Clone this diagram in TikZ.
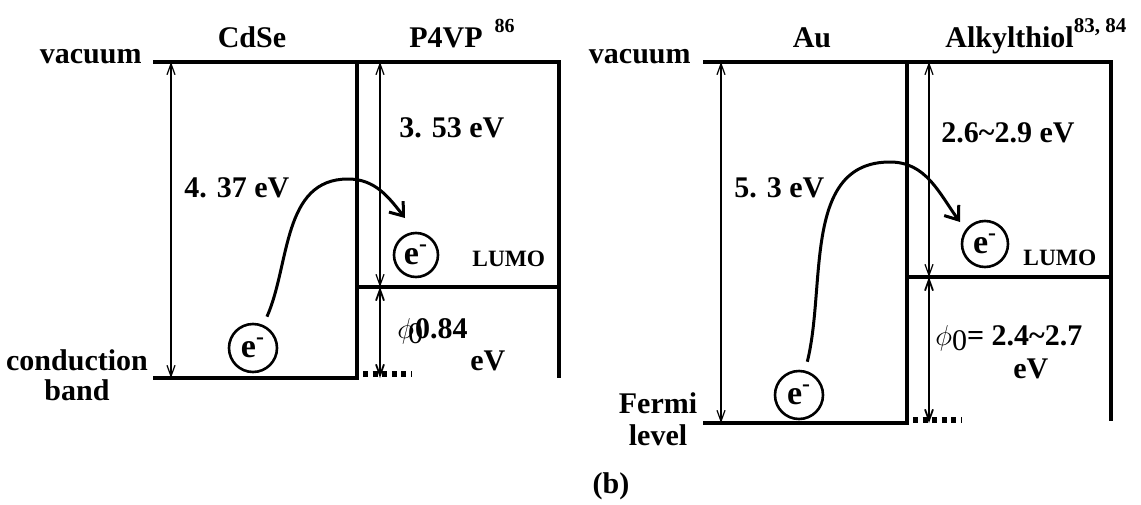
\documentclass[tikz,border=0pt]{standalone}
\usepackage{fontspec}
\setmainfont{Liberation Serif}
\usetikzlibrary{arrows.meta}
\begin{document}
\begin{tikzpicture}[x=0.5pt,y=-0.5pt,
  lbl/.style={font=\bfseries\fontsize{15}{17}\selectfont, inner sep=0pt},
  small/.style={font=\bfseries\fontsize{11.7}{14}\selectfont, inner sep=0pt},
  lvl/.style={line width=1.6pt},
  gaparrow/.style={line width=0.6pt, {Straight Barb[length=5.5pt,width=4pt]}-{Straight Barb[length=5.5pt,width=4pt]}},
  phiarrow/.style={line width=0.9pt, {Straight Barb[length=5.5pt,width=4pt]}-{Straight Barb[length=5.5pt,width=4pt]}},
  elec/.style={circle, draw, line width=1.3pt, inner sep=0pt, font=\bfseries\fontsize{17}{19}\selectfont},
  hop/.style={line width=1.5pt, -{Straight Barb[length=6pt,width=9pt,line width=1.5pt]}},
  dotted5/.style={line width=2.6pt, dash pattern=on 2.5pt off 2.3pt}
]
\useasboundingbox (0,0) rectangle (1141,504);

% ---------- left diagram: CdSe / P4VP ----------
\coordinate (Lv0) at (153,62);
\coordinate (Lv1) at (357,62);
\coordinate (Lv2) at (559,62);
\coordinate (Lc0) at (153,378);
\coordinate (Lc1) at (357,378);
\coordinate (Lw1) at (559,378);
\coordinate (Llumo0) at (357,287);
\coordinate (Llumo1) at (559,287);

\draw[lvl] (Lv0) -- (Lv2) -- (Lw1);
\draw[lvl] (Lv1) -- (Lc1) -- (Lc0);
\draw[lvl] (Llumo0) -- (Llumo1);

\coordinate (LaT) at (171,62);   \coordinate (LaB) at (171,378);
\coordinate (LbT) at (380,62);   \coordinate (LbB) at (380,287);
\coordinate (LcB) at (380,378);
\draw[gaparrow] (LaT) -- (LaB);
\draw[gaparrow] (LbT) -- (LbB);
\draw[phiarrow] (LbB) -- (LcB);

\coordinate (Ld0) at (363,374); \coordinate (Ld1) at (412,374);
\draw[dotted5] (Ld0) -- (Ld1);

\node[lbl, anchor=base east] (vacL) at (142,63) {vacuum};
\node[lbl, anchor=base] (cdse) at (252,47) {CdSe};
\node[lbl, anchor=base west] (p4vp) at (409,47) {P4VP\hspace{6pt}\raisebox{7.5pt}{\fontsize{10}{10}\selectfont 86}};
\node[lbl, anchor=base west] (e437) at (184,197) {4. 37 eV};
\node[lbl, anchor=base west] (e353) at (399,137) {3. 53 eV};
\node[small, anchor=base west] (lumoL) at (472,266) {LUMO};
\node[lbl, anchor=base west] (phiL) at (397,338) {$\phi$\hspace{-3pt}\raisebox{-2.5pt}{\mdseries 0}\hspace{-4pt}0.84};
\node[lbl, anchor=base west] (evL) at (470,370) {eV};
\node[lbl, anchor=base] (cbL1) at (77,370) {conduction};
\node[lbl, anchor=base] (cbL2) at (77,400) {band};

\node[elec, minimum size=24pt] (lowL) at (253,348) {e\textsuperscript{-}};
\node[elec, minimum size=22pt] (upL) at (416,255) {e\textsuperscript{-}};
\coordinate (pkL) at (348,179);
\coordinate (tipL) at (405,218);
\draw[hop, shorten <=4.5pt] (lowL) to[out=66,in=180] (pkL) to[out=0,in=128] (tipL);

% ---------- right diagram: Au / Alkylthiol ----------
\coordinate (Rv0) at (703,62);
\coordinate (Rv1) at (907,62);
\coordinate (Rv2) at (1111,62);
\coordinate (Rf0) at (703,423);
\coordinate (Rf1) at (907,423);
\coordinate (Rw1) at (1111,421);
\coordinate (Rlumo0) at (907,277);
\coordinate (Rlumo1) at (1111,277);

\draw[lvl] (Rv0) -- (Rv2) -- (Rw1);
\draw[lvl] (Rv1) -- (Rf1) -- (Rf0);
\draw[lvl] (Rlumo0) -- (Rlumo1);

\coordinate (RaT) at (721,62);   \coordinate (RaB) at (721,423);
\coordinate (RbT) at (929,62);   \coordinate (RbB) at (929,277);
\coordinate (RcB) at (929,423);
\draw[gaparrow] (RaT) -- (RaB);
\draw[gaparrow] (RbT) -- (RbB);
\draw[phiarrow] (RbB) -- (RcB);

\coordinate (Rd0) at (913,420); \coordinate (Rd1) at (962,420);
\draw[dotted5] (Rd0) -- (Rd1);

\node[lbl, anchor=base east] (vacR) at (691,63) {vacuum};
\node[lbl, anchor=base] (au) at (812,47) {Au};
\node[lbl, anchor=base west] (alk) at (945,47) {Alkylthiol\raisebox{7.5pt}{\fontsize{10.5}{11}\selectfont 83, 84}};
\node[lbl, anchor=base west] (e53) at (734,197) {5. 3 eV};
\node[lbl, anchor=base west] (e26) at (941,142) {2.6\textasciitilde2.9 eV};
\node[small, anchor=base west] (lumoR) at (1023,265) {LUMO};
\node[lbl, anchor=base west] (phiR) at (935,345) {$\phi$\raisebox{-2.5pt}{\mdseries 0}= 2.4\textasciitilde2.7};
\node[lbl, anchor=base west] (evR) at (1013,378) {eV};
\node[lbl, anchor=base] (fermi1) at (658,413) {Fermi};
\node[lbl, anchor=base] (fermi2) at (658,445) {level};

\node[elec, minimum size=24pt] (lowR) at (799,395) {e\textsuperscript{-}};
\node[elec, minimum size=23pt] (upR) at (985,244) {e\textsuperscript{-}};
\coordinate (pkR) at (890,162);
\coordinate (tipR) at (960,222);
\draw[hop, shorten <=4.5pt] (lowR) to[out=76,in=180] (pkR) to[out=0,in=126] (tipR);

\node[lbl, anchor=base] (cap) at (611,493) {(b)};
\end{tikzpicture}
\end{document}
